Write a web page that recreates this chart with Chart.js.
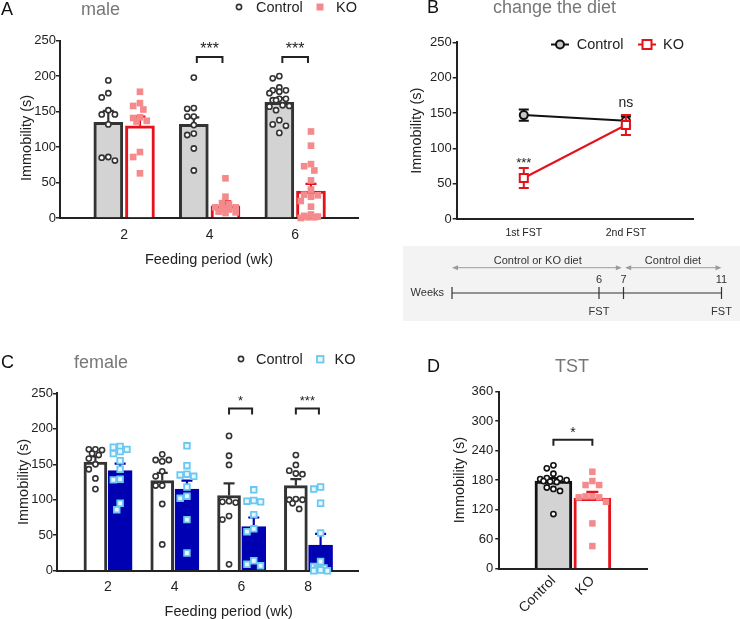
<!DOCTYPE html>
<html>
<head>
<meta charset="utf-8">
<script src="https://cdn.jsdelivr.net/npm/chart.js@4.4.1/dist/chart.umd.min.js"></script>
<style>
  body { margin: 0; width: 740px; height: 619px; overflow: hidden; background: #fff; position: relative;
         font-family: "Liberation Sans", Arial, sans-serif; color: #222; }
  canvas, svg, .t { position: absolute; }
  .t { white-space: nowrap; line-height: 1; }
  .ttl { color: #777; font-size: 18px; }
  .lab { font-size: 18px; color: #111; }
  .leg { font-size: 14.5px; }
</style>
</head>
<body>
<canvas id="cA" width="370" height="300" style="left:0;top:0"></canvas>
<canvas id="cB" width="370" height="240" style="left:370px;top:0"></canvas>
<canvas id="cT" width="337" height="75" style="left:403px;top:246px;background:#f3f3f3"></canvas>
<canvas id="cC" width="370" height="319" style="left:0;top:300px"></canvas>
<canvas id="cD" width="370" height="319" style="left:370px;top:300px"></canvas>

<!-- panel A header -->
<div class="t lab" style="left:1px;top:-0.5px">A</div>
<div class="t ttl" style="left:81px;top:-0.5px">male</div>
<svg style="left:233.5px;top:2.3px" width="10" height="10"><circle cx="5" cy="5" r="2.6" fill="#fff" stroke="#333" stroke-width="1.6"/></svg>
<div class="t leg" style="left:256px;top:0.2px">Control</div>
<svg style="left:316px;top:3.3px" width="8" height="8"><rect x="0.5" y="0.5" width="7" height="7" fill="#f58a8c"/></svg>
<div class="t leg" style="left:336px;top:0.2px">KO</div>
<div class="t" style="left:25.7px;top:137.5px;font-size:14.5px;transform:translate(-50%,-50%) rotate(-90deg)">Immobility (s)</div>

<!-- panel B header -->
<div class="t lab" style="left:427px;top:-2px">B</div>
<div class="t ttl" style="left:493px;top:-2.5px">change the diet</div>
<svg style="left:550px;top:38px" width="20" height="13"><line x1="1" y1="6.5" x2="19" y2="6.5" stroke="#111" stroke-width="2"/><circle cx="10" cy="6.5" r="4" fill="#c8c8c8" stroke="#111" stroke-width="2"/></svg>
<div class="t leg" style="left:576.7px;top:37.1px">Control</div>
<svg style="left:637px;top:38px" width="20" height="13"><line x1="1" y1="6.5" x2="19" y2="6.5" stroke="#e3121b" stroke-width="2"/><rect x="5.5" y="2" width="9" height="9" fill="#fff" stroke="#e3121b" stroke-width="2"/></svg>
<div class="t leg" style="left:663px;top:37.1px">KO</div>

<!-- panel C header -->
<div class="t lab" style="left:1px;top:352.9px">C</div>
<div class="t ttl" style="left:74px;top:353px">female</div>
<svg style="left:235.7px;top:354.2px" width="10" height="10"><circle cx="5" cy="5" r="2.6" fill="#fff" stroke="#333" stroke-width="1.6"/></svg>
<div class="t leg" style="left:256px;top:352px">Control</div>
<svg style="left:315.5px;top:354.5px" width="9" height="9"><rect x="1" y="1" width="6.5" height="6.5" fill="#eaf7fd" stroke="#6ac8f3" stroke-width="1.8"/></svg>
<div class="t leg" style="left:334.5px;top:352px">KO</div>
<div class="t" style="left:228.7px;top:610.7px;font-size:14.5px;transform:translate(-50%,-50%)">Feeding period (wk)</div>

<!-- panel D header -->
<div class="t lab" style="left:427px;top:357px">D</div>
<div class="t ttl" style="left:555px;top:357px">TST</div>

<script>
// ---------- data ----------
// A: male, forced swim test
const weeksMale = [2, 4, 6];
const maleCtrlMean = [135, 132, 163];
const maleCtrlSem = [16, 10, 6];
const maleKoMean = [130, 17, 38];
const maleKoSem = [13, 7, 10];
const maleCtrlDots = [
  [194, 176, 170, 152, 146, 146, 132, 86, 85, 81],
  [198, 155, 154, 143, 143, 131, 119, 117, 98, 67],
  [200, 197, 184, 180, 180, 178, 176, 168, 168, 166, 166, 159, 158, 157, 152, 138, 132, 130, 120]
];
const maleKoDots = [
  [178, 162, 158, 153, 142, 141, 137, 136, 93, 86, 63],
  [56, 30, 21, 20, 15, 15, 14, 13, 12, 9, 8, 7],
  [122, 102, 76, 73, 67, 53, 40, 33, 32, 30, 24, 16, 5, 3, 2, 1, 1, 0]
];
const maleSigWeeks = [4, 6];
const maleSigText = ['***', '***'];

// B: change the diet
const dietX = [1, 2];
const dietLabels = ['1st FST', '2nd FST'];
const dietCtrlMean = [147, 139];
const dietCtrlSem = [8, 6];
const dietKoMean = [58, 133];
const dietKoSem = [14, 14];

// B: timeline
const tlWeeks = [0, 6, 7, 11];
const tlNumWeeks = [6, 7, 11];
const tlFstWeeks = [6, 11];

// C: female
const weeksFemale = [2, 4, 6, 8];
const femCtrlMean = [153, 127, 106, 120];
const femCtrlSem = [8, 11, 17, 9];
const femKoMean = [141, 115, 62, 36];
const femKoSem = [10, 12, 13, 16];
const femCtrlDots = [
  [171, 171, 170, 165, 163, 158, 150, 143, 130, 115],
  [164, 156, 156, 154, 140, 133, 120, 120, 94, 37],
  [190, 162, 149, 98, 97, 96, 77, 72, 9],
  [163, 149, 141, 137, 136, 101, 100, 100, 95, 87]
];
const femKoDots = [
  [175, 174, 171, 168, 165, 155, 143, 129, 128, 95, 86],
  [176, 148, 136, 135, 133, 118, 105, 102, 72, 25],
  [114, 99, 98, 97, 79, 59, 55, 14, 9, 7],
  [118, 115, 95, 53, 13, 6, 4, 3, 1, 0, 0]
];
const femSigWeeks = [6, 8];
const femSigText = ['*', '***'];

// D: tail suspension test
const tstGroups = ['Control', 'KO'];
const tstMean = [178, 143];
const tstSem = [6, 13];
const tstCtrlDots = [210, 204, 193, 184, 183, 182, 180, 178, 178, 177, 176, 165, 162, 158, 111];
const tstKoDots = [197, 178, 170, 170, 147, 147, 145, 145, 136, 92, 46];

// ---------- look ----------
const RED = '#e3121b', DARK = '#333', GREY = '#d3d3d3', BLUE = '#0000b3';
const SIDE = 0.37;   // half distance between the two bars of a group (x units)

Chart.defaults.font.family = '"Liberation Sans", Arial, sans-serif';
Chart.defaults.color = '#222';
Chart.defaults.animation = false;
Chart.defaults.events = [];
Chart.defaults.plugins.legend.display = false;
Chart.defaults.plugins.tooltip.enabled = false;

// error bars (mean + sem, optionally both ways)
const errPlugin = {
  id: 'errs',
  beforeDatasetDraw(chart, args) {
    const ds = chart.data.datasets[args.index];
    if (!ds.errs) return;
    const { ctx, scales: { x, y } } = chart;
    const c = ds.errCap || 5;
    ctx.save();
    ctx.strokeStyle = ds.errColor;
    ctx.lineWidth = ds.errWidth || 2;
    ds.data.forEach((p, i) => {
      const px = x.getPixelForValue(p.x);
      const top = y.getPixelForValue(p.y + ds.errs[i]);
      const bot = y.getPixelForValue(ds.errBoth ? p.y - ds.errs[i] : p.y);
      ctx.beginPath();
      ctx.moveTo(px, bot); ctx.lineTo(px, top);
      ctx.moveTo(px - c, top); ctx.lineTo(px + c, top);
      if (ds.errBoth) { ctx.moveTo(px - c, bot); ctx.lineTo(px + c, bot); }
      ctx.stroke();
    });
    ctx.restore();
  }
};

// significance brackets and stars
const sigPlugin = {
  id: 'sig',
  afterDatasetsDraw(chart, args, opts) {
    const { ctx, scales: { x, y } } = chart;
    ctx.save();
    ctx.fillStyle = '#222';
    ctx.strokeStyle = '#222';
    ctx.lineWidth = 2;
    ctx.textAlign = 'center';
    ctx.textBaseline = 'alphabetic';
    (opts.items || []).forEach(it => {
      ctx.font = (it.size || 14) + 'px "Liberation Sans", Arial, sans-serif';
      const yy = y.getPixelForValue(it.y);
      if (it.x2 === undefined) {
        ctx.fillText(it.text, x.getPixelForValue(it.x1), yy);
        return;
      }
      const x1 = x.getPixelForValue(it.x1), x2 = x.getPixelForValue(it.x2);
      ctx.beginPath();
      ctx.moveTo(x1, yy + 6); ctx.lineTo(x1, yy); ctx.lineTo(x2, yy); ctx.lineTo(x2, yy + 6);
      ctx.stroke();
      ctx.fillText(it.text, (x1 + x2) / 2, yy - 3);
    });
    ctx.restore();
  }
};

// simple bee-swarm: spread dots of similar value sideways, kept inside +-maxOff px
function swarm(vals, ky, d, maxOff) {
  const placed = [];
  return vals.map(v => {
    const py = v * ky;
    let best = 0, bestDist = -1;
    for (let i = 0; i < 80; i++) {
      const off = Math.ceil(i / 2) * (i % 2 ? -1 : 1) * d / 2;
      if (Math.abs(off) > maxOff) break;
      const dist = placed.reduce((m, p) => Math.min(m, Math.hypot(p[0] - off, p[1] - py)), Infinity);
      if (dist >= d) { best = off; bestDist = dist; break; }
      if (dist > bestDist + 0.5) { best = off; bestDist = dist; }
    }
    placed.push([best, py]);
    return best;
  });
}

function spread(chart) {
  const { x, y } = chart.scales;
  const kx = Math.abs(x.getPixelForValue(1) - x.getPixelForValue(0));
  const ky = Math.abs(y.getPixelForValue(1) - y.getPixelForValue(0));
  chart.data.datasets.forEach(ds => {
    if (!ds.cols) return;
    const pts = [];
    ds.cols.forEach((vals, g) => {
      const offs = swarm(vals, ky, ds.gap, ds.maxOff);
      vals.forEach((v, j) => pts.push({ x: ds.centers[g] + offs[j] / kx, y: v }));
    });
    ds.data = pts;
  });
  chart.update();
}

function xAxis(o) {
  return {
    type: 'linear', min: o.xmin, max: o.xmax, offset: false,
    afterBuildTicks: s => { s.ticks = o.ticks.map(v => ({ value: v })); },
    afterFit: s => { s.height = o.xh; },
    grid: { display: false, drawTicks: false },
    border: { display: true, color: '#222', width: 2 },
    ticks: {
      autoSkip: false, padding: o.xpad, color: '#222',
      font: { size: o.xfont || 14 },
      minRotation: o.rot || 0, maxRotation: o.rot || 0,
      callback: (v, i) => o.tickText[i]
    },
    title: o.xtitle
      ? { display: true, text: o.xtitle, color: '#222', padding: 0, font: { size: 14.5, lineHeight: 1 } }
      : { display: false }
  };
}

function yAxis(o) {
  return {
    min: 0, max: o.ymax,
    afterFit: s => { s.width = o.yw; },
    ticks: { stepSize: o.step, padding: o.ypad === undefined ? 0 : o.ypad, color: '#222', font: { size: 13 } },
    grid: { drawOnChartArea: false, drawTicks: true, tickLength: 4, color: '#222', lineWidth: 1.5 },
    border: { color: '#222', width: 2 },
    title: o.ytitle
      ? { display: true, text: o.ytitle, color: '#222', padding: 0, font: { size: 14.5, lineHeight: 1 } }
      : { display: false }
  };
}

function barDs(xs, means, sems, fill, edge, thick, errColor) {
  return {
    type: 'bar', grouped: false, order: 3,
    data: xs.map((x, i) => ({ x, y: means[i] })),
    backgroundColor: fill, borderColor: edge, borderWidth: 3, borderSkipped: 'start',
    barThickness: thick,
    errs: sems, errColor: errColor || edge, errWidth: 2.2, errCap: 5.5
  };
}

function dotDs(cols, centers, style) {
  return Object.assign({
    type: 'scatter', order: 1, clip: false, data: [],
    cols, centers
  }, style);
}

const circleDots = { pointStyle: 'circle', pointRadius: 2.6, pointBorderWidth: 1.6,
  pointBackgroundColor: '#fff', pointBorderColor: DARK, gap: 6.6, maxOff: 11 };

// ---------- A: male ----------
const chartA = new Chart(document.getElementById('cA'), {
  type: 'bar',
  data: { datasets: [
    barDs(weeksMale.map(w => w - SIDE), maleCtrlMean, maleCtrlSem, GREY, DARK, 29),
    barDs(weeksMale.map(w => w + SIDE), maleKoMean, maleKoSem, '#fff', RED, 29),
    dotDs(maleCtrlDots, weeksMale.map(w => w - SIDE), circleDots),
    dotDs(maleKoDots, weeksMale.map(w => w + SIDE), { pointStyle: 'rect', pointRadius: 4.7,
      pointBorderWidth: 0, pointBackgroundColor: '#f58a8c', pointBorderColor: '#f58a8c', gap: 6.8, maxOff: 11 })
  ] },
  options: {
    responsive: false,
    layout: { padding: { left: 18.5, right: 12, top: 40.7, bottom: 32.7 } },
    scales: {
      x: xAxis({ xmin: 0.5, xmax: 7.47, ticks: weeksMale, tickText: weeksMale.map(String),
                 xh: 49.3, xpad: 9, xtitle: 'Feeding period (wk)' }),
      y: yAxis({ ymax: 250, step: 50, yw: 41.5 })
    },
    plugins: { sig: { items: maleSigWeeks.map((w, i) => ({ x1: w - 0.3, x2: w + 0.3, y: 227, text: maleSigText[i], size: 16 })) } }
  },
  plugins: [errPlugin, sigPlugin]
});
spread(chartA);

// ---------- B: change the diet ----------
new Chart(document.getElementById('cB'), {
  type: 'scatter',
  data: { datasets: [
    { data: dietX.map((x, i) => ({ x, y: dietCtrlMean[i] })), showLine: true, order: 2, clip: false,
      borderColor: '#111', borderWidth: 2,
      pointStyle: 'circle', pointRadius: 4, pointBorderWidth: 2,
      pointBackgroundColor: '#c8c8c8', pointBorderColor: '#111',
      errs: dietCtrlSem, errBoth: true, errColor: '#111', errWidth: 2, errCap: 5 },
    { data: dietX.map((x, i) => ({ x, y: dietKoMean[i] })), showLine: true, order: 1, clip: false,
      borderColor: RED, borderWidth: 2,
      pointStyle: 'rect', pointRadius: 5.7, pointBorderWidth: 2,
      pointBackgroundColor: '#fff', pointBorderColor: RED,
      errs: dietKoSem, errBoth: true, errColor: RED, errWidth: 2, errCap: 5 }
  ] },
  options: {
    responsive: false,
    layout: { padding: { left: 39.45, right: 47, top: 42.3, bottom: 0 } },
    scales: {
      x: xAxis({ xmin: 0.343, xmax: 2.657, ticks: dietX, tickText: dietLabels, xh: 21, xpad: 8, xfont: 10.5 }),
      y: yAxis({ ymax: 250, step: 50, yw: 47.25, ytitle: 'Immobility (s)', ypad: 1 })
    },
    plugins: { sig: { items: [
      { x1: dietX[0], y: 74, text: '***', size: 13 },
      { x1: dietX[1], y: 159, text: 'ns', size: 14 }
    ] } }
  },
  plugins: [errPlugin, sigPlugin]
});

// ---------- B: timeline ----------
const timelinePlugin = {
  id: 'timeline',
  afterDatasetsDraw(chart) {
    const { ctx, scales: { x, y } } = chart;
    const y0 = y.getPixelForValue(0);
    const font = '11px "Liberation Sans", Arial, sans-serif';
    ctx.save();
    // arrows
    const arrow = (a, b, yy) => {
      const xa = x.getPixelForValue(a), xb = x.getPixelForValue(b);
      ctx.strokeStyle = '#9a9a9a'; ctx.fillStyle = '#9a9a9a'; ctx.lineWidth = 1;
      ctx.beginPath(); ctx.moveTo(xa + 3, yy); ctx.lineTo(xb - 3, yy); ctx.stroke();
      [[xa, 1], [xb, -1]].forEach(([px, dir]) => {
        ctx.beginPath(); ctx.moveTo(px, yy); ctx.lineTo(px + 6 * dir, yy - 2.5); ctx.lineTo(px + 6 * dir, yy + 2.5);
        ctx.closePath(); ctx.fill();
      });
    };
    arrow(0, 6.93, y0 - 25.3);
    arrow(7.07, 11, y0 - 25.3);
    ctx.fillStyle = '#333'; ctx.font = font; ctx.textBaseline = 'middle'; ctx.textAlign = 'center';
    ctx.fillText('Control or KO diet', x.getPixelForValue(3.5), y0 - 32);
    ctx.fillText('Control diet', x.getPixelForValue(9.02), y0 - 32);
    tlNumWeeks.forEach(w => ctx.fillText(String(w), x.getPixelForValue(w), y0 - 13));
    tlFstWeeks.forEach(w => ctx.fillText('FST', x.getPixelForValue(w), y0 + 19));
    ctx.textAlign = 'right';
    ctx.fillText('Weeks', x.getPixelForValue(0) - 8, y0);
    ctx.restore();
  }
};
new Chart(document.getElementById('cT'), {
  type: 'scatter',
  data: { datasets: [
    { data: [{ x: tlWeeks[0], y: 0 }, { x: tlWeeks[tlWeeks.length - 1], y: 0 }], showLine: true,
      borderColor: '#333', borderWidth: 1.2, pointRadius: 0, clip: false },
    { data: tlWeeks.map(w => ({ x: w, y: 0 })), pointStyle: 'line', rotation: 90, pointRadius: 6,
      borderColor: '#333', borderWidth: 1.2, clip: false }
  ] },
  options: {
    responsive: false,
    layout: { padding: { left: 49, right: 18.5, top: 34, bottom: 15 } },
    scales: { x: { type: 'linear', min: 0, max: 11, display: false }, y: { min: -1, max: 1, display: false } }
  },
  plugins: [timelinePlugin]
});

// ---------- C: female ----------
const chartC = new Chart(document.getElementById('cC'), {
  type: 'bar',
  data: { datasets: [
    barDs(weeksFemale.map(w => w - SIDE), femCtrlMean, femCtrlSem, '#fff', DARK, 23),
    barDs(weeksFemale.map(w => w + SIDE), femKoMean, femKoSem, BLUE, BLUE, 24),
    dotDs(femCtrlDots, weeksFemale.map(w => w - SIDE), Object.assign({}, circleDots, { maxOff: 9 })),
    dotDs(femKoDots, weeksFemale.map(w => w + SIDE), { pointStyle: 'rect', pointRadius: 4,
      pointBorderWidth: 1.8, pointBackgroundColor: '#eaf7fd', pointBorderColor: '#6ac8f3', gap: 6.8, maxOff: 9 })
  ] },
  options: {
    responsive: false,
    layout: { padding: { left: 16.75, right: 12, top: 93.3, bottom: 0 } },
    scales: {
      x: xAxis({ xmin: 0.48, xmax: 9.49, ticks: weeksFemale, tickText: weeksFemale.map(String), xh: 48.3, xpad: 8 }),
      y: yAxis({ ymax: 250, step: 50, yw: 40.25, ytitle: 'Immobility (s)' })
    },
    plugins: { sig: { items: femSigWeeks.map((w, i) => ({ x1: w - SIDE, x2: w + SIDE - 0.05, y: 228.7, text: femSigText[i], size: 13 })) } }
  },
  plugins: [errPlugin, sigPlugin]
});
spread(chartC);

// ---------- D: TST ----------
const tstX = [1, 2];
const chartD = new Chart(document.getElementById('cD'), {
  type: 'bar',
  data: { datasets: [
    Object.assign(barDs([tstX[0]], [tstMean[0]], [tstSem[0]], GREY, '#111', 37), { errCap: 6 }),
    Object.assign(barDs([tstX[1]], [tstMean[1]], [tstSem[1]], '#fff', RED, 37), { errCap: 6 }),
    dotDs([tstCtrlDots], [tstX[0]], Object.assign({}, circleDots, { pointBorderColor: '#111', maxOff: 14 })),
    dotDs([tstKoDots], [tstX[1]], { pointStyle: 'rect', pointRadius: 4.6,
      pointBorderWidth: 0, pointBackgroundColor: '#f58a8c', pointBorderColor: '#f58a8c', gap: 6.8, maxOff: 14 })
  ] },
  options: {
    responsive: false,
    layout: { padding: { left: 82.75, right: 92.3, top: 91.5, bottom: 0 } },
    scales: {
      x: xAxis({ xmin: -0.39, xmax: 3.42, ticks: tstX, tickText: tstGroups, xh: 50.3, xpad: 4, rot: 45 }),
      y: yAxis({ ymax: 360, step: 60, yw: 46.5, ytitle: 'Immobility (s)', ypad: 2 })
    },
    plugins: { sig: { items: [{ x1: tstX[0], x2: tstX[1], y: 262, text: '*', size: 14 }] } }
  },
  plugins: [errPlugin, sigPlugin]
});
spread(chartD);
</script>
</body>
</html>
